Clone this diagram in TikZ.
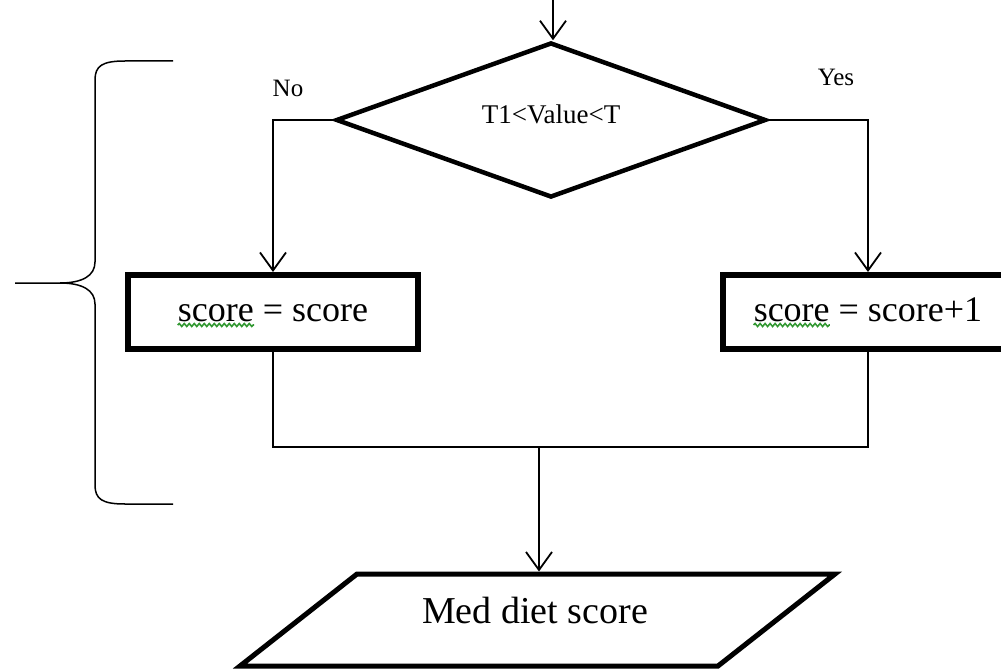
\documentclass[tikz,border=0pt]{standalone}
\usepackage{fontspec}
\setmainfont{Liberation Serif}
\usetikzlibrary{arrows.meta}
\usetikzlibrary{shapes.geometric}
\usetikzlibrary{decorations.pathmorphing}
\tikzset{dec/.style = {diamond, shape aspect = 3, draw, line width = 4.5pt, minimum width = 430, minimum height = 155, inner sep = 0, text height = 18pt, text depth = 10pt, font = \fontsize{27}{30}\selectfont}}
\tikzset{proc/.style = {rectangle, draw, line width = 6pt, minimum width = 290, minimum height = 74, inner sep = 0, text height = 24pt, text depth = 6pt, font = \fontsize{36}{40}\selectfont}}
\tikzset{ioline/.style = {draw, line width = 5pt, line join = miter}}
\tikzset{iotext/.style = {inner sep = 0, font = \fontsize{38}{42}\selectfont}}
\tikzset{conn/.style = {line width = 1.8pt, -{Straight Barb[length = 18pt, width = 26pt]}}}
\tikzset{lbl/.style = {inner sep = 0, font = \fontsize{25}{28}\selectfont}}
\definecolor{spgreen}{rgb}{0.2, 0.6, 0.2}
\newcommand{\spellword}[1]{\tikz[baseline = (w.base)] {\node [rectangle, inner sep = 0, minimum size = 0, text height = {}, text depth = {}, draw = none] (w) {#1}; \draw [spgreen, line width = 1.6pt, overlay, decorate, decoration = {snake, amplitude = 1.5pt, segment length = 5pt}] ([yshift = -4pt] w.base west) -- ([yshift = -4pt] w.base east);}}

\begin{document}
\begin{tikzpicture}[x = 1pt, y = -1pt]
      \useasboundingbox (0, 0) rectangle (1001, 671);

      \coordinate (top) at (553, 0);
      \node [dec] (dia) at (551, 120) {T1<Value<T};
      \node [proc] (no_box) at (273, 312) {\spellword{score} = score};
      \node [proc] (yes_box) at (868, 312) {\spellword{score} = score+1};
      \coordinate (join) at (539, 447);
      \node [lbl] (no_lbl) at (288, 88) {No};
      \node [lbl] (yes_lbl) at (836, 77) {Yes};

      % output parallelogram
      \coordinate (io_tl) at (357, 574);
      \coordinate (io_tr) at (835, 574);
      \coordinate (io_br) at (718, 666);
      \coordinate (io_bl) at (240, 666);
      \draw [ioline] (io_tl) -- (io_tr) -- (io_br) -- (io_bl) -- cycle;
      \node [iotext, anchor = base] (out) at (535, 623) {Med diet score};

      \draw [conn] (top) -- (top |- dia.north);
      \draw [conn] (dia.west) -| (no_box.north);
      \draw [conn] (dia.east) -| (yes_box.north);
      \draw [line width = 1.8pt] (no_box.south) |- (join) -| (yes_box.south);
      \draw [conn] (join) -- ([yshift = 2.5pt] join |- io_tl);

      % brace round the decision
      \draw [line width = 1.5pt] (173, 61) -- (125, 61) .. controls (102, 61) and (95, 66) .. (95, 80) -- (95, 262)
        .. controls (95, 276) and (82, 283) .. (60, 283) -- (15, 283)
        (60, 283) .. controls (82, 283) and (95, 290) .. (95, 304) -- (95, 485)
        .. controls (95, 499) and (102, 504) .. (125, 504) -- (173, 504);
    \end{tikzpicture}
\end{document}
